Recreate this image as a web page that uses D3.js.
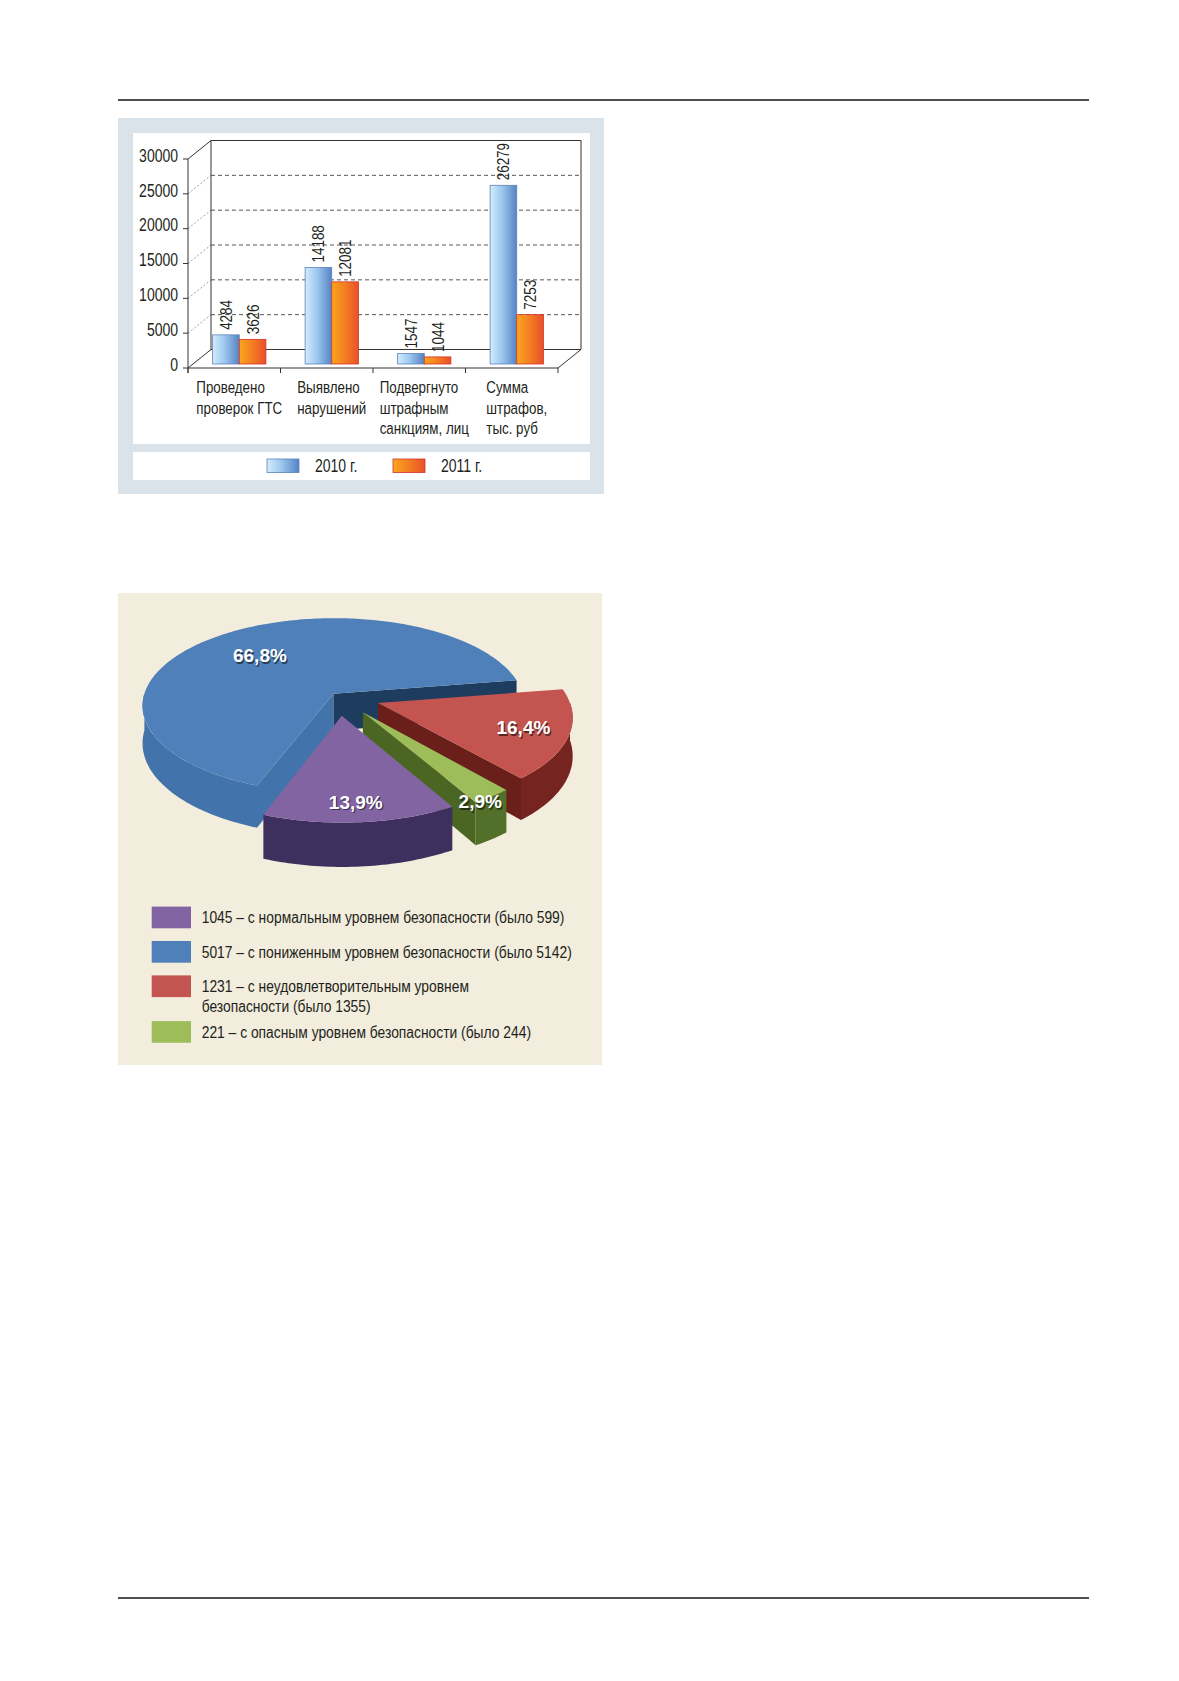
<!DOCTYPE html>
<html>
<head>
<meta charset="utf-8">
<script src="https://cdn.jsdelivr.net/npm/d3@7"></script>
<style>
  body { margin: 0; background: #fff; }
  svg text { font-family: "Liberation Sans", Arial, sans-serif; fill: #231f20; }
</style>
</head>
<body>
<div id="chart"></div>
<script>
// ---- bar chart data
var categories = [["Проведено", "проверок ГТС"], ["Выявлено", "нарушений"],
                  ["Подвергнуто", "штрафным", "санкциям, лиц"], ["Сумма", "штрафов,", "тыс. руб"]];
var years = ["2010 г.", "2011 г."];
var values2010 = [4284, 14188, 1547, 26279];
var values2011 = [3626, 12081, 1044, 7253];
var yTicks = [0, 5000, 10000, 15000, 20000, 25000, 30000];

// ---- pie data (legend order), "\n" marks the legend line break
var levelCounts = [1045, 5017, 1231, 221];
var levelBefore = [599, 5142, 1355, 244];
var levelNames = ["с нормальным уровнем безопасности",
                  "с пониженным уровнем безопасности",
                  "с неудовлетворительным уровнем\nбезопасности",
                  "с опасным уровнем безопасности"];
// order of slices going clockwise round the pie
var pieOrder = [1, 2, 3, 0];

// the original uses a condensed face; squeeze a normal one horizontally
var SX = 0.8;

var svg = d3.select("#chart").append("svg")
            .attr("width", 1179)
            .attr("height", 1681);

// condensed text helper
function ctext(g, x, y, str, size, rot) {
  return g.append("text")
          .attr("transform", `translate(${x},${y})` + (rot ? ` rotate(${rot})` : "") + ` scale(${SX},1)`)
          .style("font-size", size + "px")
          .text(str);
}
function cwidth(t) { return t.node().getComputedTextLength() * SX; }

var defs = svg.append("defs");
function hGrad(id, stops) {
  var g = defs.append("linearGradient").attr("id", id)
              .attr("x1", 0).attr("x2", 1).attr("y1", 0).attr("y2", 0);
  stops.forEach(s => g.append("stop").attr("offset", s[0]).attr("stop-color", s[1]));
}
hGrad("gBlue", [[0, "#d3ecfb"], [0.45, "#9cc7ee"], [1, "#5582c4"]]);
hGrad("gOrange", [[0, "#f9a61e"], [0.5, "#f47d22"], [1, "#e8502a"]]);
var barFill = ["url(#gBlue)", "url(#gOrange)"];
var barStroke = ["#5d82b8", "#d4322a"];

// page rules
[100, 1598].forEach(function(y) {
  svg.append("line").attr("x1", 118).attr("x2", 1089).attr("y1", y).attr("y2", y)
     .attr("stroke", "#505050").attr("stroke-width", 2);
});

// ================= BAR CHART =================
svg.append("rect").attr("x", 118).attr("y", 118).attr("width", 486).attr("height", 376).attr("fill", "#dae2ea");
svg.append("rect").attr("x", 133).attr("y", 133).attr("width", 457).attr("height", 311).attr("fill", "#fff");
svg.append("rect").attr("x", 133).attr("y", 452).attr("width", 457).attr("height", 28).attr("fill", "#fff");

var depth = {dx: 23, dy: -18.5};
var x0 = d3.scaleBand().domain(d3.range(categories.length)).range([188, 558]);
var yF = d3.scaleLinear().domain([0, 30000]).range([368, 159]);
var yBar = d3.scaleLinear().domain([0, 30000]).range([364, 160]);
var barShift = 5, barW = x0.bandwidth() * 0.288;

var bc = svg.append("g");

// back wall gridlines
yTicks.slice(1, -1).forEach(function(t) {
  bc.append("line").attr("x1", 188 + depth.dx).attr("x2", 558 + depth.dx)
    .attr("y1", yF(t) + depth.dy).attr("y2", yF(t) + depth.dy)
    .attr("stroke", "#444").attr("stroke-width", 0.9).attr("stroke-dasharray", "4,3");
});
// left wall diagonals
yTicks.forEach(function(t, i) {
  var solid = (i === 0 || i === yTicks.length - 1);
  bc.append("line").attr("x1", 188).attr("y1", yF(t))
    .attr("x2", 188 + depth.dx).attr("y2", yF(t) + depth.dy)
    .attr("stroke", solid ? "#333" : "#777").attr("stroke-width", solid ? 1 : 0.7)
    .attr("stroke-dasharray", solid ? null : "2,2");
});
// wall frame
var frame = d3.line();
bc.append("path")
  .attr("d", frame([[188 + depth.dx, yF(0) + depth.dy], [188 + depth.dx, yF(30000) + depth.dy],
                    [558 + depth.dx, yF(30000) + depth.dy], [558 + depth.dx, yF(0) + depth.dy],
                    [188 + depth.dx, yF(0) + depth.dy]]))
  .attr("fill", "none").attr("stroke", "#333").attr("stroke-width", 1);
bc.append("path")
  .attr("d", frame([[188, yF(0)], [558, yF(0)], [558 + depth.dx, yF(0) + depth.dy]]))
  .attr("fill", "none").attr("stroke", "#333").attr("stroke-width", 1);

// front axis
bc.append("line").attr("x1", 188).attr("x2", 188).attr("y1", yF(30000)).attr("y2", yF(0) + 5)
  .attr("stroke", "#333").attr("stroke-width", 1);
yTicks.forEach(function(t) {
  bc.append("line").attr("x1", 183).attr("x2", 188).attr("y1", yF(t)).attr("y2", yF(t))
    .attr("stroke", "#333").attr("stroke-width", 1);
  ctext(bc, 178, yF(t) + 2.8, t, 17.5).attr("text-anchor", "end");
});
x0.domain().concat([categories.length]).forEach(function(i) {
  var xx = i < categories.length ? x0(i) : x0.range()[1];
  bc.append("line").attr("x1", xx).attr("x2", xx).attr("y1", yF(0)).attr("y2", yF(0) + 5)
    .attr("stroke", "#333").attr("stroke-width", 1);
});

// bars
var series = [values2010, values2011];
categories.forEach(function(cat, i) {
  var cx = x0(i) + x0.bandwidth() / 2 + barShift;
  series.forEach(function(vals, j) {
    var v = vals[i];
    var bx = cx - barW + j * barW;
    bc.append("rect").attr("x", bx).attr("y", yBar(v))
      .attr("width", barW).attr("height", yBar(0) - yBar(v))
      .attr("fill", barFill[j]).attr("stroke", barStroke[j]).attr("stroke-width", 0.8);
    ctext(bc, bx + barW / 2 + 6, yBar(v) - 5, v, 16.8, -90);
  });
  // category label block, lines left aligned, block centred under the group
  var g = bc.append("g");
  var lines = cat.map((s, k) => g.append("text").style("font-size", "16.7px").text(s));
  var maxW = d3.max(lines, cwidth);
  lines.forEach((t, k) => t.attr("transform", `translate(${cx - maxW / 2},${393 + k * 20.5}) scale(${SX},1)`));
});

// legend
var legX = [267, 393];
years.forEach(function(y, j) {
  bc.append("rect").attr("x", legX[j]).attr("y", 459).attr("width", 32).attr("height", 13.5)
    .attr("fill", barFill[j]).attr("stroke", barStroke[j]).attr("stroke-width", 0.8);
  ctext(bc, legX[j] + 48, 471.5, y, 17.5);
});

// ================= PIE CHART =================
svg.append("rect").attr("x", 118).attr("y", 593).attr("width", 484).attr("height", 472).attr("fill", "#f2eddc");

var topCol  = ["#8264a3", "#4f80b9", "#c4544f", "#9dbd5b"];
var wallCol = ["#3f2f5f", "#4373ab", "#76241f", "#52702a"];
var cutCol  = ["#3a2c58", "#1e3c5d", "#6a1f1b", "#4a6622"];
var explode = [0.22, 0.04, 0.22, 0.22];
var labelR  = [0.78, 0.66, 0.77, 0.92];
var labelDrop = [5, 3, 0, 11];

var P = {cx: 338.4, cy: 696.3, R: 190, RY: 86.4, H: 37, a: 0.136};
function proj(u, v, h) {
  var s = 1 / (1 - P.a * v);
  return [P.cx + P.R * u * s, P.cy + (P.RY * v + h) * s];
}
var total = d3.sum(levelCounts);
var pie = d3.pie().sort(null)
            .startAngle(200.5 * Math.PI / 180)
            .endAngle((200.5 + 360) * Math.PI / 180);
var arcs = pie(pieOrder.map(k => levelCounts[k]));
arcs.forEach((d, i) => { d.k = pieOrder[i]; });

// d3 angle (clockwise from 12 o'clock) -> unit disc point, v pointing at viewer
function disc(a, r, o) { return [o[0] + r * Math.sin(a), o[1] - r * Math.cos(a)]; }
function pt(a, r, o, h) { var p = disc(a, r, o); return proj(p[0], p[1], h); }
function arcPts(a0, a1, o, h) {
  var n = Math.max(2, Math.ceil((a1 - a0) / 0.02));
  return d3.range(n + 1).map(i => pt(a0 + (a1 - a0) * i / n, 1, o, h));
}
var line = d3.line();
var pg = svg.append("g");

arcs.forEach(function(d) {
  var k = d.k;
  var mid = (d.startAngle + d.endAngle) / 2;
  var o = [explode[k] * Math.sin(mid), -explode[k] * Math.cos(mid)];
  var apexT = proj(o[0], o[1], 0), apexB = proj(o[0], o[1], P.H);
  // radial cut faces that face the viewer
  if (Math.sin(d.startAngle) < 0) {
    pg.append("path").attr("d", line([apexT, pt(d.startAngle, 1, o, 0), pt(d.startAngle, 1, o, P.H), apexB]) + "Z")
      .attr("fill", k === 1 ? wallCol[k] : cutCol[k]);
  }
  if (Math.sin(d.endAngle) > 0) {
    pg.append("path").attr("d", line([apexT, pt(d.endAngle, 1, o, 0), pt(d.endAngle, 1, o, P.H), apexB]) + "Z")
      .attr("fill", cutCol[k]);
  }
  // outer wall, front half only (d3 angle 90..270 deg mod 360)
  for (var base = -2 * Math.PI; base <= 2 * Math.PI; base += 2 * Math.PI) {
    var lo = Math.max(d.startAngle, base + Math.PI / 2), hi = Math.min(d.endAngle, base + 3 * Math.PI / 2);
    if (hi > lo) {
      var topEdge = arcPts(lo, hi, o, 0), botEdge = arcPts(lo, hi, o, P.H).reverse();
      pg.append("path").attr("d", line(topEdge.concat(botEdge)) + "Z").attr("fill", wallCol[k]);
    }
  }
  // top face
  pg.append("path").attr("d", line([apexT].concat(arcPts(d.startAngle, d.endAngle, o, 0))) + "Z")
    .attr("fill", topCol[k]);
});

// percentage labels
arcs.forEach(function(d) {
  var k = d.k;
  var mid = (d.startAngle + d.endAngle) / 2;
  var o = [explode[k] * Math.sin(mid), -explode[k] * Math.cos(mid)];
  var p = pt(mid, labelR[k], o, labelDrop[k]);
  var txt = (levelCounts[k] / total * 100).toFixed(1).replace(".", ",") + "%";
  [["rgba(0,0,0,0.55)", 1.2], ["#fff", 0]].forEach(function(st) {
    pg.append("text").attr("x", p[0] + st[1]).attr("y", p[1] + st[1]).attr("dy", "0.36em")
      .attr("text-anchor", "middle").style("font-size", "19px").style("font-weight", "bold")
      .style("fill", st[0]).text(txt);
  });
});

// pie legend
var ly = 917.3;
levelCounts.forEach(function(c, k) {
  svg.append("rect").attr("x", 151.7).attr("y", ly - 10.7).attr("width", 39.3).attr("height", 21.7)
     .attr("fill", topCol[k]);
  var rows = `${c} – ${levelNames[k]} (было ${levelBefore[k]})`.split("\n");
  rows.forEach(function(r, j) {
    ctext(svg, 201.7, ly + 5.8 + j * 20, r, 17.3);
  });
  ly += 34.4 + (rows.length - 1) * 11.3;
});
</script>
</body>
</html>
